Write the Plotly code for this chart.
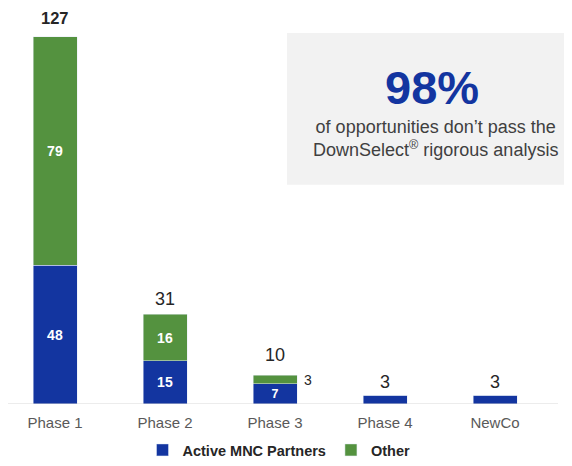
import plotly.graph_objects as go

categories = ["Phase 1", "Phase 2", "Phase 3", "Phase 4", "NewCo"]
active_mnc = [48, 15, 7, 3, 3]
other = [79, 16, 3, 0, 0]
totals = [a + o for a, o in zip(active_mnc, other)]

BLUE = "#1335A0"
GREEN = "#54923F"
FONT = "Liberation Sans, Arial, sans-serif"

# page body adds an 8px offset; layout maps screen px -> figure coordinates
OFF = 8
W, H = 572, 466
ML, MR = 0, 22
PLOT_W = W - ML - MR            # 550
PLOT_TOP_S, BASE_S = 14, 404.5  # screen y of plot top and baseline
MT = PLOT_TOP_S - OFF
MB = H - (BASE_S - OFF)
PLOT_H = BASE_S - PLOT_TOP_S
PX_PER_UNIT = 367.5 / 127
CAT_STEP = 110
FIRST_CAT_S = 55

def px(xs):
    return (xs - OFF - ML) / PLOT_W

def py(ys):
    return (BASE_S - ys) / PLOT_H

x_lo = (OFF + ML - FIRST_CAT_S) / CAT_STEP
x_hi = x_lo + PLOT_W / CAT_STEP

def inside_text(vals):
    return [str(v) if v >= 5 else "" for v in vals]

fig = go.Figure()
fig.add_trace(go.Bar(
    name="Active MNC Partners", x=categories, y=active_mnc, marker_color=BLUE,
    text=inside_text(active_mnc), textposition="inside", insidetextanchor="middle",
    textangle=0, textfont=dict(color="white", size=14, family=FONT, weight="bold"),
    hoverinfo="x+y",
))
fig.add_trace(go.Bar(
    name="Other", x=categories, y=other, marker_color=GREEN,
    text=inside_text(other), textposition="inside", insidetextanchor="middle",
    textangle=0, textfont=dict(color="white", size=14, family=FONT, weight="bold"),
    hoverinfo="x+y",
))

# total labels above the stacks
total_shift = [19, 15.5, 20.5, 13.5, 13.5]
total_bold = [True, False, False, False, False]
total_size = [16.5, 18, 18, 18, 18]
for c, t, s, b, fs in zip(categories, totals, total_shift, total_bold, total_size):
    fig.add_annotation(x=c, y=t, text=str(t), showarrow=False, xanchor="center",
                       yanchor="middle", yshift=s, borderpad=0,
                       font=dict(size=fs, color="#262626", family=FONT,
                                 weight="bold" if b else "normal"))

# small value label beside thin "Other" segments
for c, a, o in zip(categories, active_mnc, other):
    if 0 < o < 5:
        fig.add_annotation(x=c, y=a + o / 2, text=str(o), showarrow=False,
                           xanchor="center", yanchor="middle",
                           xshift=33, yshift=-1, font=dict(size=14, color="#262626", family=FONT))

# callout box
fig.add_shape(type="rect", xref="paper", yref="paper",
              x0=px(287), x1=px(580), y0=py(185), y1=py(33),
              fillcolor="#F2F2F2", line_width=0, layer="below")
fig.add_annotation(xref="paper", yref="paper", x=px(432), y=py(88),
                   text="98%", showarrow=False, xanchor="center", yanchor="middle",
                   font=dict(size=47, color=BLUE, family=FONT, weight="bold"))
fig.add_annotation(xref="paper", yref="paper", x=px(435), y=py(139),
                   text="of opportunities don’t pass the<br>DownSelect<sup>®</sup> rigorous analysis",
                   showarrow=False, xanchor="center", yanchor="middle", align="center",
                   font=dict(size=18, color="#404040", family=FONT))

# baseline
fig.add_shape(type="line", xref="paper", yref="y", x0=px(3), x1=px(558), y0=0, y1=0,
              line=dict(color="#D9D9D9", width=1))

fig.update_layout(
    barmode="stack", bargap=0.6,
    width=W, height=H,
    margin=dict(l=ML, r=MR, t=MT, b=MB, autoexpand=False),
    plot_bgcolor="white", paper_bgcolor="white",
    font=dict(family=FONT),
    showlegend=True,
    legend=dict(orientation="h", x=(279 - OFF) / W, xanchor="center", xref="container",
                y=1 - (450 - OFF) / H, yanchor="middle", yref="container",
                font=dict(size=14.5, color="#262626", family=FONT, weight="bold"),
                itemwidth=30, traceorder="normal"),
    xaxis=dict(showline=False, ticks="", showgrid=False, zeroline=False, automargin=False,
               range=[x_lo, x_hi], ticklabelstandoff=8,
               tickfont=dict(size=15, color="#595959", family=FONT)),
    yaxis=dict(visible=False, range=[0, PLOT_H / PX_PER_UNIT], showgrid=False,
               zeroline=False, automargin=False),
)

fig.write_html("out.html")
